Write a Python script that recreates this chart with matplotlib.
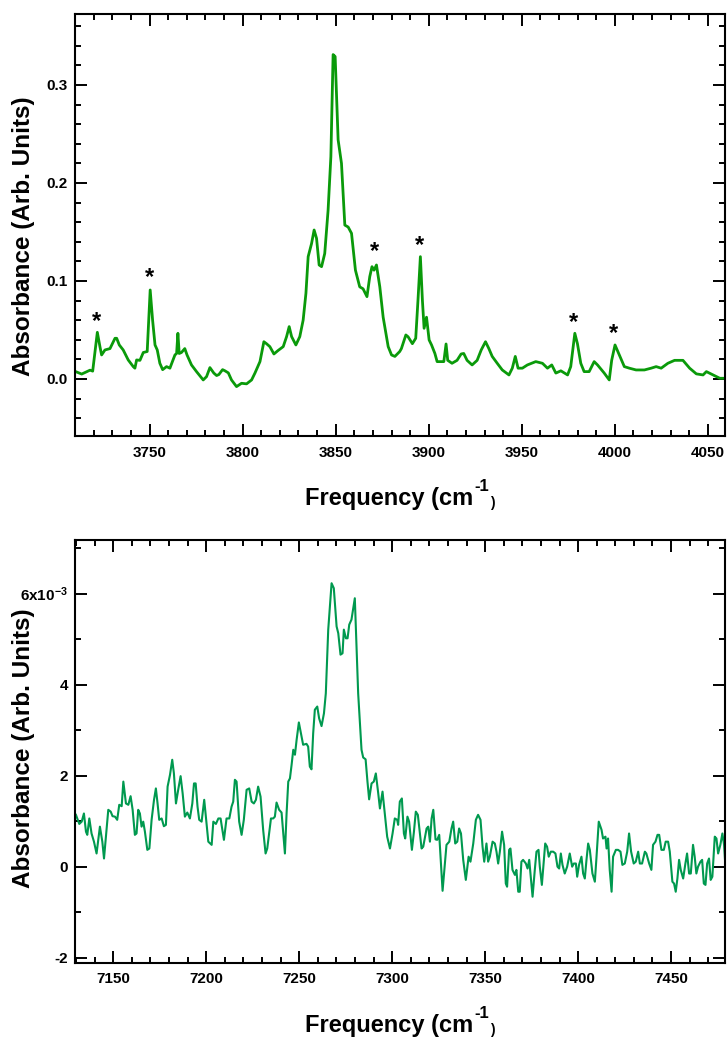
import matplotlib
matplotlib.use("Agg")
import matplotlib.pyplot as plt
from matplotlib.ticker import MultipleLocator, FixedLocator, FixedFormatter

plt.rcParams['font.family'] = ['Liberation Sans', 'DejaVu Sans']
plt.rcParams['font.weight'] = 'bold'
plt.rcParams['mathtext.fontset'] = 'custom'
plt.rcParams['mathtext.rm'] = 'Liberation Sans:bold'
plt.rcParams['mathtext.bf'] = 'Liberation Sans:bold'
plt.rcParams['mathtext.it'] = 'Liberation Sans:bold'
plt.rcParams['mathtext.default'] = 'rm'

# ---------------- data: upper panel (3700 cm-1 region) ----------------
freq_top = [3710.4, 3713.5, 3718.0, 3719.4, 3721.9, 3723.3, 3724.2, 3726.0, 3728.7, 3731.4,
            3732.3, 3733.7, 3735.8, 3738.5, 3741.2, 3742.1, 3743.0, 3744.8, 3746.6, 3748.7,
            3750.3, 3751.6, 3752.9, 3754.1, 3755.5, 3757.0, 3759.1, 3760.9, 3763.6, 3764.5,
            3765.2, 3765.9, 3767.1, 3768.9, 3770.1, 3772.5, 3775.2, 3778.8, 3780.6, 3782.4,
            3784.5, 3786.0, 3787.2, 3789.2, 3790.5, 3792.3, 3794.0, 3796.7, 3799.4, 3802.1,
            3804.8, 3806.6, 3809.3, 3811.4, 3812.8, 3814.6, 3816.8, 3819.0, 3821.8, 3823.6,
            3825.0, 3826.3, 3828.6, 3830.7, 3832.5, 3834.0, 3835.2, 3837.0, 3838.4, 3839.7,
            3841.1, 3842.4, 3844.1, 3845.9, 3847.4, 3848.6, 3849.7, 3851.3, 3853.1, 3854.9,
            3856.7, 3858.5, 3860.6, 3862.9, 3864.7, 3866.8, 3868.3, 3869.5, 3870.6, 3871.9,
            3873.7, 3875.5, 3878.2, 3880.0, 3881.8, 3884.4, 3885.3, 3887.7, 3888.9, 3891.2,
            3893.0, 3894.2, 3895.5, 3896.6, 3897.5, 3898.8, 3900.2, 3901.5, 3903.3, 3904.5,
            3906.9, 3908.1, 3909.3, 3910.2, 3912.5, 3915.2, 3917.4, 3918.8, 3920.6, 3923.3,
            3926.0, 3928.2, 3930.5, 3932.3, 3934.1, 3936.8, 3939.5, 3943.1, 3944.9, 3946.5,
            3948.0, 3950.3, 3953.0, 3957.5, 3961.1, 3963.8, 3966.1, 3968.3, 3971.0, 3974.6,
            3976.3, 3978.5, 3979.9, 3981.7, 3983.5, 3986.2, 3988.9, 3990.7, 3994.3, 3997.0,
            3998.3, 4000.1, 4002.4, 4005.1, 4007.8, 4011.4, 4015.9, 4019.5, 4022.2, 4024.9,
            4028.5, 4032.1, 4036.6, 4040.2, 4043.8, 4047.4, 4049.2, 4052.8, 4056.4, 4060.9]
abs_top = [0.0074, 0.0050, 0.0090, 0.0080, 0.0476, 0.0330, 0.0245, 0.0296, 0.0310, 0.0415,
           0.0415, 0.0347, 0.0296, 0.0194, 0.0126, 0.0110, 0.0194, 0.0190, 0.0270, 0.0280,
           0.0908, 0.0600, 0.0347, 0.0296, 0.0160, 0.0095, 0.0126, 0.0110, 0.0245, 0.0260,
           0.0466, 0.0260, 0.0270, 0.0310, 0.0245, 0.0143, 0.0075, -0.0010, 0.0024, 0.0116,
           0.0060, 0.0035, 0.0045, 0.0095, 0.0083, 0.0062, -0.0010, -0.0078, -0.0044, -0.0050,
           -0.0010, 0.0060, 0.0177, 0.0380, 0.0360, 0.0330, 0.0255, 0.0290, 0.0330, 0.0432,
           0.0534, 0.0432, 0.0347, 0.0432, 0.0600, 0.0874, 0.1248, 0.1380, 0.1520, 0.1435,
           0.1163, 0.1146, 0.1280, 0.1720, 0.2268, 0.3310, 0.3290, 0.2440, 0.2200, 0.1570,
           0.1550, 0.1486, 0.1110, 0.0940, 0.0920, 0.0840, 0.1044, 0.1146, 0.1110, 0.1163,
           0.0940, 0.0630, 0.0330, 0.0245, 0.0230, 0.0280, 0.0310, 0.0449, 0.0430, 0.0360,
           0.0415, 0.0800, 0.1248, 0.0800, 0.0517, 0.0630, 0.0398, 0.0347, 0.0260, 0.0177,
           0.0177, 0.0177, 0.0357, 0.0190, 0.0160, 0.0190, 0.0255, 0.0260, 0.0190, 0.0143,
           0.0190, 0.0296, 0.0380, 0.0310, 0.0230, 0.0160, 0.0092, 0.0041, 0.0110, 0.0230,
           0.0110, 0.0110, 0.0143, 0.0177, 0.0160, 0.0110, 0.0143, 0.0060, 0.0083, 0.0041,
           0.0126, 0.0466, 0.0360, 0.0160, 0.0075, 0.0075, 0.0177, 0.0143, 0.0060, -0.0010,
           0.0190, 0.0347, 0.0245, 0.0126, 0.0110, 0.0092, 0.0092, 0.0110, 0.0126, 0.0110,
           0.0160, 0.0190, 0.0190, 0.0110, 0.0052, 0.0041, 0.0075, 0.0041, 0.0007, 0.0007]

# asterisk markers (frequency, absorbance) of the labelled bands
star_freq = [3721.2, 3749.8, 3870.6, 3895.2, 3978.0, 3999.3]
star_abs = [0.059, 0.104, 0.130, 0.136, 0.058, 0.046]

# ---------------- data: lower panel (7200 cm-1 region), units of 1e-3 ----------------
freq_bot = [7129.9, 7131.7, 7133.0, 7134.2, 7135.3, 7136.0, 7137.1, 7138.3, 7139.6, 7141.0,
            7142.8, 7144.1, 7145.0, 7147.3, 7148.6, 7149.6, 7150.9, 7152.1, 7153.2, 7154.5,
            7155.4, 7156.8, 7158.1, 7159.3, 7160.4, 7161.6, 7162.5, 7163.4, 7164.3, 7165.2,
            7166.1, 7167.0, 7168.3, 7169.4, 7170.6, 7171.9, 7172.9, 7173.8, 7174.7, 7176.0,
            7177.2, 7178.3, 7179.2, 7180.5, 7181.7, 7182.6, 7183.7, 7184.9, 7186.2, 7187.3,
            7188.5, 7189.8, 7191.2, 7192.5, 7193.4, 7194.3, 7195.3, 7196.2, 7197.5, 7198.9,
            7200.2, 7201.1, 7202.9, 7203.8, 7205.2, 7206.5, 7207.7, 7209.5, 7210.9, 7212.4,
            7213.6, 7214.5, 7215.4, 7216.3, 7217.7, 7219.0, 7220.2, 7221.7, 7223.1, 7224.4,
            7225.6, 7226.7, 7227.9, 7229.2, 7230.6, 7231.9, 7232.8, 7234.8, 7236.0, 7236.9,
            7237.8, 7239.2, 7240.5, 7242.3, 7243.2, 7244.1, 7245.0, 7245.9, 7246.8, 7247.7,
            7248.6, 7249.8, 7250.9, 7252.1, 7253.9, 7254.8, 7255.7, 7256.6, 7257.5, 7258.4,
            7259.7, 7260.7, 7262.0, 7263.3, 7264.3, 7265.6, 7267.4, 7268.6, 7270.1, 7271.0,
            7272.2, 7273.3, 7274.0, 7275.1, 7276.0, 7276.9, 7278.1, 7279.9, 7281.7, 7283.5,
            7284.4, 7285.7, 7286.7, 7287.6, 7288.9, 7290.1, 7291.2, 7292.5, 7293.4, 7294.8,
            7296.0, 7297.3,
            7298.8, 7300.2, 7301.4, 7302.7, 7303.2, 7304.1, 7305.2, 7306.3, 7307.0, 7308.2,
            7309.1, 7310.6, 7311.7, 7312.7, 7313.8, 7315.8, 7316.7, 7318.5, 7319.4, 7320.3,
            7321.2, 7322.1, 7323.3, 7324.2, 7325.3, 7327.1, 7328.3, 7329.2, 7330.7, 7331.9,
            7332.8, 7333.9, 7335.0, 7336.0, 7337.0, 7338.2, 7339.6, 7341.1, 7342.1, 7343.6,
            7345.0, 7346.2, 7347.5, 7348.6, 7349.5, 7350.7, 7351.6, 7352.5, 7354.0, 7355.2,
            7356.1, 7357.0, 7357.9, 7359.1, 7360.2, 7361.1, 7361.8, 7362.9, 7363.6, 7364.7,
            7366.0, 7366.8, 7367.8, 7368.6, 7369.5, 7370.4, 7371.9, 7372.8, 7373.7, 7375.5,
            7376.7, 7377.6, 7378.7, 7379.4, 7380.5, 7381.5, 7382.3, 7383.3, 7384.2, 7385.3,
            7386.6, 7387.8, 7388.9, 7389.8, 7390.7, 7391.6, 7392.8, 7394.1, 7395.5, 7396.8,
            7397.7, 7398.8, 7399.5, 7400.5, 7401.8, 7402.7, 7403.6, 7404.5, 7405.4, 7406.3,
            7407.7, 7409.0, 7409.9, 7411.1, 7412.6, 7413.4, 7414.7, 7415.3, 7416.1, 7417.0,
            7418.0, 7418.8, 7420.3, 7421.5, 7422.8, 7423.8, 7425.1, 7426.4, 7427.4, 7428.5,
            7429.9, 7431.0, 7432.3, 7433.2, 7434.4, 7435.9, 7436.7, 7438.2, 7439.4, 7440.3,
            7441.6, 7442.7, 7443.6, 7444.8, 7446.1, 7447.1, 7448.4, 7449.3, 7450.7, 7451.6,
            7452.5, 7453.4, 7454.3, 7455.2, 7456.5, 7457.7, 7458.6, 7459.7, 7460.6, 7461.8,
            7462.7, 7463.6, 7464.5, 7465.8, 7466.7, 7467.6, 7468.5, 7469.4, 7470.4, 7471.3,
            7472.2, 7473.5, 7474.4, 7475.3, 7476.5, 7477.6, 7478.5, 7479.4]
abs_bot = [1.14, 0.94, 0.99, 1.17, 0.77, 0.70, 1.06, 0.73, 0.55, 0.29,
           0.88, 0.55, 0.18, 1.25, 1.21, 1.11, 1.10, 1.03, 1.36, 1.33,
           1.87, 1.39, 1.36, 1.55, 1.25, 0.70, 0.73, 1.25, 1.17, 0.88,
           0.99, 0.77, 0.37, 0.40, 1.03, 1.47, 1.72, 1.39, 1.03, 1.06,
           0.89, 0.92, 1.76, 2.02, 2.35, 2.05, 1.39, 1.69, 1.99, 1.61,
           1.10, 1.19, 1.06, 1.39, 1.83, 1.83, 1.32, 1.03, 0.99, 1.47,
           0.92, 0.55, 0.48, 0.99, 0.94, 1.06, 1.06, 0.59, 1.06, 1.06,
           1.32, 1.43, 1.91, 1.87, 0.99, 0.70, 1.03, 1.69, 1.72, 1.43,
           1.39, 1.47, 1.76, 1.54, 0.81, 0.29, 0.40, 1.06, 1.06, 1.10,
           1.41, 1.25, 1.19, 0.29, 1.17, 1.87, 1.94, 2.24, 2.57, 2.46,
           2.79, 3.17, 2.93, 2.68, 2.70, 2.64, 2.20, 2.14, 2.93, 3.45,
           3.52, 3.26, 3.09, 3.37, 3.81, 5.21, 6.23, 6.12, 5.28, 5.13,
           4.66, 4.69, 5.21, 5.02, 5.02, 5.32, 5.43, 5.90, 3.81, 2.57,
           2.40, 2.36, 1.87, 1.48, 1.83, 1.87, 2.05, 1.61, 1.28, 1.65,
           1.17, 0.66,
           0.40, 0.73, 1.06, 1.03, 0.92, 1.43, 1.50, 0.73, 0.62, 1.10,
           0.99, 0.37, 0.77, 1.21, 1.14, 0.40, 0.44, 0.84, 0.88, 0.55,
           1.06, 1.25, 0.60, 0.59, 0.70, -0.53, 0.04, 0.48, 0.55, 0.84,
           0.99, 0.51, 0.55, 0.84, 0.73, 0.15, -0.29, 0.22, 0.11, 0.51,
           1.03, 1.14, 1.03, 0.44, 0.11, 0.51, 0.11, 0.22, 0.55, 0.51,
           0.33, 0.07, 0.33, 0.77, 0.48, -0.37, -0.44, 0.37, 0.40, -0.07,
           -0.18, -0.07, -0.55, -0.55, 0.11, 0.15, 0.07, -0.04, 0.15, -0.66,
           -0.07, 0.33, 0.37, 0.00, -0.40, 0.11, 0.51, 0.44, 0.22, 0.33,
           0.33, 0.29, 0.00, -0.04, 0.29, 0.04, -0.15, 0.00, 0.29, 0.00,
           0.07, 0.07, -0.22, 0.04, 0.22, -0.15, -0.26, 0.15, 0.51, 0.37,
           -0.15, -0.33, 0.22, 0.99, 0.81, 0.62, 0.66, 0.40, 0.62, -0.07,
           -0.55, 0.22, 0.37, 0.37, 0.33, 0.04, 0.07, 0.33, 0.73, 0.33,
           0.07, 0.11, 0.33, 0.07, 0.07, 0.33, 0.29, 0.07, -0.07, 0.48,
           0.55, 0.70, 0.70, 0.37, 0.37, 0.55, 0.55, 0.33, -0.33, -0.37,
           -0.55, -0.26, 0.15, -0.07, -0.26, 0.07, 0.29, -0.15, -0.15, 0.48,
           0.22, -0.15, 0.00, 0.11, 0.15, -0.37, -0.40, 0.07, 0.18, -0.29,
           -0.22, 0.66, 0.62, 0.29, 0.48, 0.73, 0.48, -0.11]

top_xticks = [3750, 3800, 3850, 3900, 3950, 4000, 4050]
top_yticks = [0.0, 0.1, 0.2, 0.3]
top_ylabels = ['0.0', '0.1', '0.2', '0.3']
bot_xticks = [7150, 7200, 7250, 7300, 7350, 7400, 7450]
bot_yticks = [-2, 0, 2, 4, 6]
bot_ylabels = ['-2', '0', '2', '4', '6x10$^{-3}$']

TOP_COLOR = '#0a9a0a'
BOT_COLOR = '#00994f'

W, H = 727, 1040
fig = plt.figure(figsize=(W / 100, H / 100), dpi=100)
ax1 = fig.add_axes([75 / W, 1 - 436 / H, 650 / W, 422 / H])
ax2 = fig.add_axes([75 / W, 1 - 962.7 / H, 650 / W, 422.7 / H])


def style(ax, xmajor, xminor, ymajor_locs, ylabels, yminor):
    for s in ax.spines.values():
        s.set_linewidth(1.5)
    ax.xaxis.set_major_locator(FixedLocator(xmajor))
    ax.xaxis.set_minor_locator(MultipleLocator(xminor))
    ax.yaxis.set_major_locator(FixedLocator(ymajor_locs))
    ax.yaxis.set_major_formatter(FixedFormatter(ylabels))
    ax.yaxis.set_minor_locator(MultipleLocator(yminor))
    ax.tick_params(which='both', direction='in', top=True, right=True, width=1.4,
                   labelsize=11, colors='black')
    ax.tick_params(which='major', length=8.6)
    ax.tick_params(which='minor', length=4.0)
    ax.tick_params(axis='x', pad=7)
    ax.tick_params(axis='y', pad=5)
    for lab in ax.get_xticklabels() + ax.get_yticklabels():
        lab.set_fontweight('bold')


# upper panel
ax1.plot(freq_top, abs_top, color=TOP_COLOR, linewidth=2.0)
ax1.set_xlim(3709.9, 4059.2)
ax1.set_ylim(-0.0582, 0.3724)
style(ax1, top_xticks, 10, top_yticks, top_ylabels, 0.02)
for f, a in zip(star_freq, star_abs):
    ax1.text(f, a, '*', ha='center', va='center', fontsize=17, fontweight='bold',
             color='black')

# lower panel
ax2.plot(freq_bot, abs_bot, color=BOT_COLOR, linewidth=1.5)
ax2.set_xlim(7129.4, 7479.0)
ax2.set_ylim(-2.11, 7.18)
style(ax2, bot_xticks, 10, bot_yticks, bot_ylabels, 1)

# axis titles ------------------------------------------------------------
renderer = fig.canvas.get_renderer()


def freq_label(x_left_px, baseline_px):
    """'Frequency (cm' + raised '-1' + small ')' laid out piece by piece (pixels)."""
    t1 = fig.text(x_left_px / W, 1 - baseline_px / H, 'Frequency (cm', ha='left',
                  va='baseline', fontsize=17, fontweight='bold')
    w1 = t1.get_window_extent(renderer).width
    x2 = x_left_px + w1 + 1
    t2 = fig.text(x2 / W, 1 - (baseline_px - 14) / H, '-1', ha='left', va='baseline',
                  fontsize=12, fontweight='bold')
    w2 = t2.get_window_extent(renderer).width
    x3 = x2 + w2 + 1
    fig.text(x3 / W, 1 - (baseline_px + 2) / H, ')', ha='left', va='baseline',
             fontsize=10, fontweight='bold')


freq_label(305, 505)
freq_label(305, 1032)

fig.text(24 / W, 1 - 236 / H, 'Absorbance (Arb. Units)', rotation=90, ha='center',
         va='center', fontsize=17.5, fontweight='bold')
fig.text(24 / W, 1 - 748 / H, 'Absorbance (Arb. Units)', rotation=90, ha='center',
         va='center', fontsize=17.5, fontweight='bold')

fig.savefig('out.png', dpi=100)
